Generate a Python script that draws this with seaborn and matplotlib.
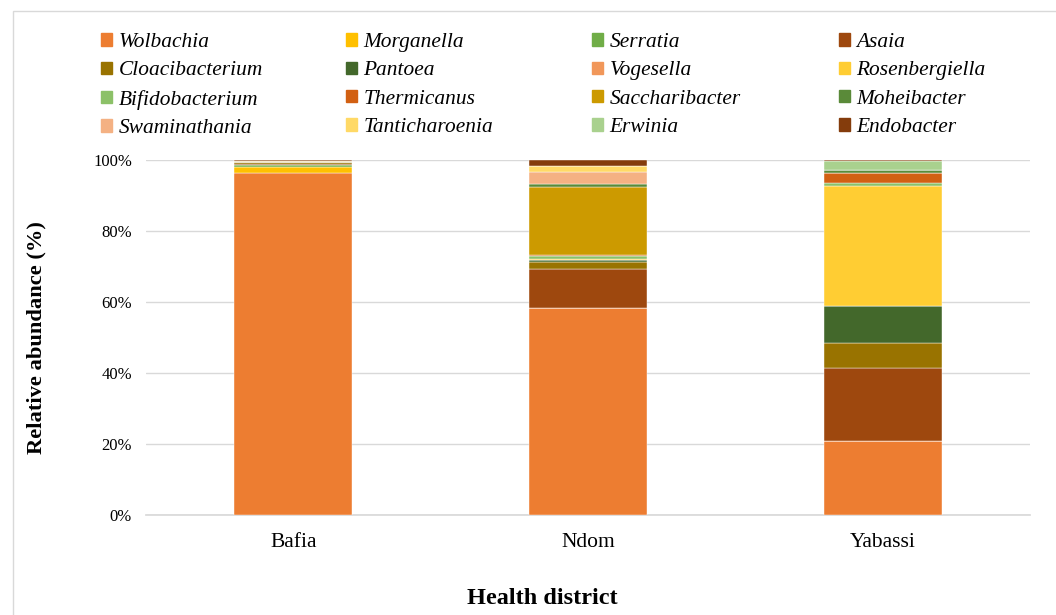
import numpy as np
import matplotlib
matplotlib.use('Agg')
import matplotlib.pyplot as plt
import matplotlib.patches as mpatches
import seaborn as sns

districts = ['Bafia', 'Ndom', 'Yabassi']

genera = ['Wolbachia', 'Morganella', 'Serratia', 'Asaia',
          'Cloacibacterium', 'Pantoea', 'Vogesella', 'Rosenbergiella',
          'Bifidobacterium', 'Thermicanus', 'Saccharibacter', 'Moheibacter',
          'Swaminathania', 'Tanticharoenia', 'Erwinia', 'Endobacter']

colors = ['#ED7D31', '#FFC000', '#70AD47', '#9E480E',
          '#997300', '#43682B', '#F1975A', '#FFCD33',
          '#8CC168', '#D26012', '#CC9A00', '#5A8A39',
          '#F4B183', '#FFD966', '#A9D18E', '#843C0C']

# relative abundance (%) per district, same order as genera
bafia   = [96.4, 1.6, 0.5, 0.4, 0.4, 0.2, 0.0, 0.0,
           0.0, 0.0, 0.3, 0.0, 0.0, 0.0, 0.0, 0.2]
ndom    = [58.3, 0.0, 0.0, 11.0, 1.9, 0.5, 0.0, 0.5,
           0.85, 0.3, 19.0, 0.75, 3.6, 1.7, 0.0, 1.7]
yabassi = [20.8, 0.0, 0.0, 20.6, 7.1, 10.5, 0.0, 33.6,
           1.0, 2.7, 0.0, 1.0, 0.0, 0.0, 2.4, 0.3]

sns.set_theme(style='white')
plt.rcParams['font.family'] = ['Liberation Serif', 'DejaVu Serif']
plt.rcParams['text.color'] = 'black'
plt.rcParams['axes.labelcolor'] = 'black'
plt.rcParams['xtick.color'] = 'black'
plt.rcParams['ytick.color'] = 'black'

fig = plt.figure(figsize=(10.56, 6.15), dpi=100)
ax = fig.add_axes([146/1056, 1-515/615, 884/1056, 355/615])

data = np.array([bafia, ndom, yabassi])
bottom = np.zeros(len(districts))
for i, g in enumerate(genera):
    ax.bar(districts, data[:, i], bottom=bottom, width=0.4,
           color=colors[i], edgecolor='white', linewidth=0.3, zorder=3)
    bottom += data[:, i]

ax.set_xlim(-0.5, 2.5)
ax.set_ylim(0, 100)
ax.set_yticks(np.arange(0, 101, 20))
ax.set_yticklabels([f'{v}%' for v in range(0, 101, 20)], fontsize=12)
ax.tick_params(axis='x', labelsize=15.5, pad=13, length=0)
ax.tick_params(axis='y', length=0, pad=10)
ax.yaxis.grid(True, color='#d9d9d9', linewidth=1, zorder=0)
for s in ['top', 'right', 'left']:
    ax.spines[s].set_visible(False)
ax.spines['bottom'].set_color('#d9d9d9')
ax.set_ylabel('Relative abundance (%)', fontsize=16.2, fontweight='bold', labelpad=34)
ax.set_xlabel('Health district', fontsize=17.5, fontweight='bold', labelpad=26)
ax.xaxis.label.set_x(0.448)

# legend: four columns placed individually
col_x = [101, 346, 592, 839]
for c in range(4):
    handles = [mpatches.Patch(color=colors[r*4 + c], label=genera[r*4 + c]) for r in range(4)]
    fig.legend(handles=handles, loc='upper left',
               bbox_to_anchor=(col_x[c]/1056, 1-33/615), frameon=False,
               prop={'style': 'italic', 'size': 15.4}, handlelength=0.52,
               handleheight=0.52, handletextpad=0.3, labelspacing=0.44,
               borderaxespad=0, borderpad=0)

fig.patches.append(mpatches.Rectangle((13/1056, -0.05), 1.1, 1-11/615+0.05,
                                      transform=fig.transFigure, fill=False,
                                      edgecolor='#d9d9d9', linewidth=1))

fig.savefig('out.png', dpi=100)
